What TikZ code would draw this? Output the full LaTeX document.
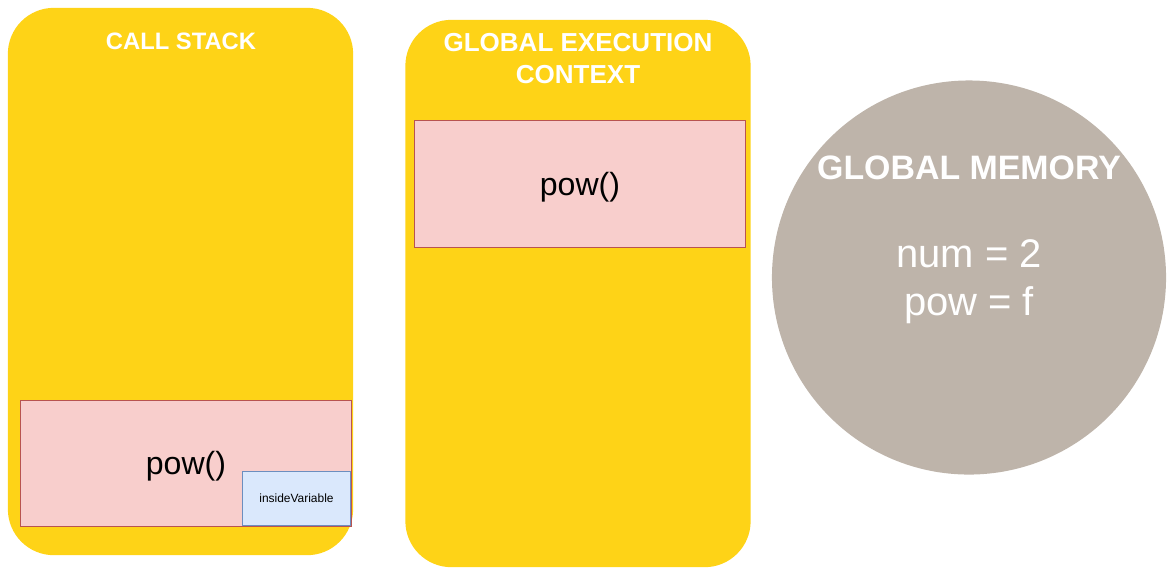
\documentclass[tikz,border=0pt]{standalone}
\usepackage{fontspec}
\setmainfont{Liberation Sans}
\usepackage{tikz}
\usetikzlibrary{positioning,shapes.geometric}
\definecolor{stackyellow}{RGB}{254,211,23}
\definecolor{memgrey}{RGB}{190,180,170}
\definecolor{framefill}{RGB}{248,206,204}
\definecolor{framerule}{RGB}{184,84,80}
\definecolor{varfill}{RGB}{218,232,252}
\definecolor{varrule}{RGB}{108,142,191}
\tikzset{
  panel/.style={rectangle,rounded corners=1.15cm,fill=stackyellow,draw=none,inner sep=0pt,outer sep=0pt,minimum width=8.63cm,minimum height=13.68cm},
  memory/.style={circle,fill=memgrey,draw=none,inner sep=0pt,minimum size=9.85cm},
  frame/.style={rectangle,draw=framerule,line width=0.7pt,fill=framefill,inner sep=0pt,text depth=0pt,minimum width=8.25cm,minimum height=3.15cm,font=\fontsize{22.8pt}{27pt}\selectfont},
  varbox/.style={rectangle,draw=varrule,line width=0.7pt,fill=varfill,inner sep=0pt,minimum width=2.72cm,minimum height=1.37cm,font=\fontsize{8.5pt}{10pt}\selectfont},
  title/.style={text=white,align=center,font=\bfseries\fontsize{16.9pt}{22.8pt}\selectfont},
  bigtitle/.style={title,font=\bfseries\fontsize{18.5pt}{22.8pt}\selectfont},
  memtitle/.style={text=white,align=center,font=\bfseries\fontsize{24.1pt}{28pt}\selectfont},
  memtext/.style={text=white,align=center,font=\fontsize{28.4pt}{34.1pt}\selectfont}
}
\begin{document}
\begin{tikzpicture}[x=0.025cm,y=-0.025cm]
  \useasboundingbox (0,0) rectangle (1172,575);
  % call stack
  \node[panel] (stack) at (180.5,281.5) {};
  \node[title] (stacktitle) at (181,41) {CALL STACK};
  \node[frame] (stackpow) at (186,463) {pow()};
  \node[varbox] (insidevar) at (296.5,498.5) {insideVariable};
  % global execution context
  \node[panel] (gec) at (578,293.5) {};
  \node[bigtitle] (gectitle) at (578,59) {GLOBAL EXECUTION\\CONTEXT};
  \node[frame] (gecpow) at (580,184) {pow()};
  % global memory
  \node[memory] (mem) at (969,277.5) {};
  \node[memtitle] (memtitle) at (969,168) {GLOBAL MEMORY};
  \node[memtext] (memvars) at (969,282) {num = 2\\pow = f};
\end{tikzpicture}
\end{document}
